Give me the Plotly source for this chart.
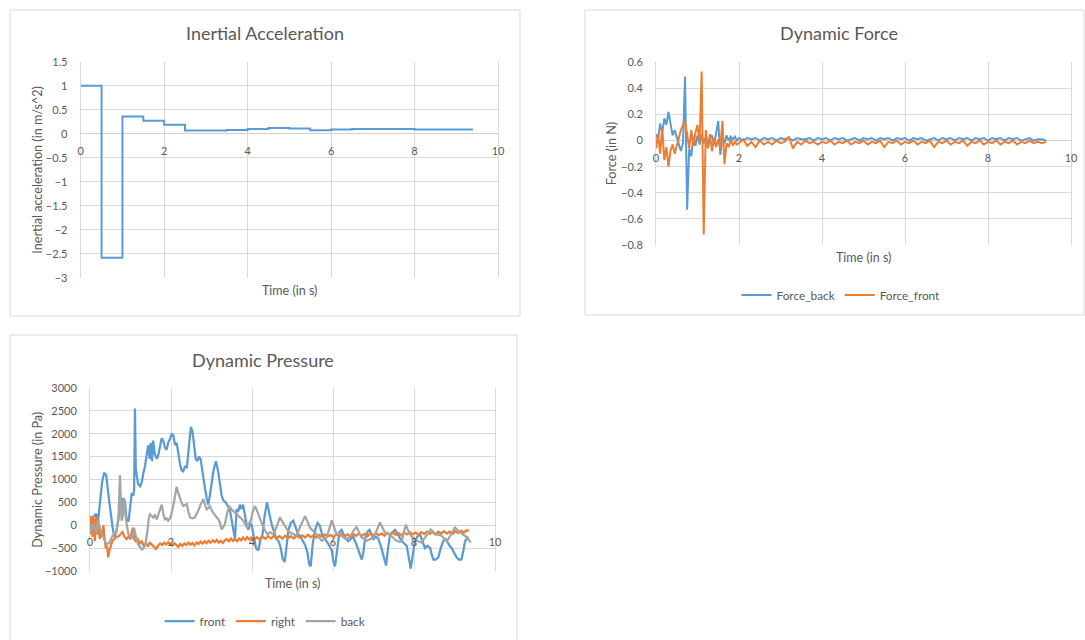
import plotly.graph_objects as go

# ---------------- data ----------------
ACCEL_T = [0, 0.5, 1.0, 1.5, 2.0, 2.5, 3.5, 4.0, 4.5, 5.0, 5.5, 6.0, 6.5, 8.0, 9.4]
ACCEL_V = [1.0, -2.58, 0.36, 0.27, 0.19, 0.07, 0.08, 0.10, 0.12, 0.11, 0.075, 0.09, 0.10, 0.09, 0.09]

FORCE_TIME = [
    0.00, 0.05, 0.10, 0.15, 0.20, 0.25, 0.30, 0.35, 0.40, 0.45,
    0.50, 0.55, 0.60, 0.65, 0.70, 0.75, 0.80, 0.85, 0.90, 0.95,
    1.00, 1.05, 1.10, 1.15, 1.20, 1.25, 1.30, 1.35, 1.40, 1.45,
    1.50, 1.55, 1.60, 1.65, 1.70, 1.75, 1.80, 1.85, 1.90, 1.95,
    2.0, 2.1, 2.2, 2.3, 2.4, 2.5, 2.6, 2.7, 2.8, 2.9,
    3.0, 3.1, 3.2, 3.3, 3.4, 3.5, 3.6, 3.7, 3.8, 3.9,
    4.0, 4.1, 4.2, 4.3, 4.4, 4.5, 4.6, 4.7, 4.8, 4.9,
    5.0, 5.1, 5.2, 5.3, 5.4, 5.5, 5.6, 5.7, 5.8, 5.9,
    6.0, 6.1, 6.2, 6.3, 6.4, 6.5, 6.6, 6.7, 6.8, 6.9,
    7.0, 7.1, 7.2, 7.3, 7.4, 7.5, 7.6, 7.7, 7.8, 7.9,
    8.0, 8.1, 8.2, 8.3, 8.4, 8.5, 8.6, 8.7, 8.8, 8.9,
    9.0, 9.1, 9.2, 9.3, 9.4,
]
FORCE_BACK = [
    0.05, 0.01, 0.13, 0.06, 0.17, 0.12, 0.22, 0.14, 0.04, 0.08,
    0.02, -0.04, -0.08, -0.02, 0.49, -0.53, -0.06, -0.12, 0.03, -0.04,
    0.04, -0.03, 0.05, -0.02, 0.03, -0.05, 0.02, 0.04, -0.03, 0.06,
    0.15, -0.11, 0.03, -0.02, 0.04, 0.00, 0.03, 0.01, 0.03, 0.00,
    0.02, 0.00, 0.02, 0.01, 0.02, 0.00, 0.02, 0.01, 0.02, 0.00,
    0.02, 0.01, 0.02, 0.00, 0.02, 0.01, 0.01, 0.02, 0.00, 0.02,
    0.01, 0.02, 0.00, 0.02, 0.01, 0.02, 0.00, 0.01, 0.02, 0.00,
    0.02, 0.01, 0.02, 0.00, 0.02, 0.01, 0.02, 0.00, 0.02, 0.01,
    0.02, 0.00, 0.02, 0.01, 0.02, 0.00, 0.01, 0.02, 0.00, 0.02,
    0.01, 0.02, 0.00, 0.02, 0.01, 0.02, 0.00, 0.02, 0.01, 0.02,
    0.00, 0.02, 0.01, 0.02, 0.00, 0.02, 0.01, 0.02, 0.00, 0.01,
    0.02, 0.00, 0.01, 0.01, 0.00,
]
FORCE_FRONT = [
    -0.06, 0.05, -0.10, 0.10, -0.15, -0.05, -0.20, -0.08, -0.03, -0.10,
    -0.04, 0.03, 0.08, 0.12, 0.15, 0.05, -0.06, 0.08, -0.04, 0.06,
    0.12, -0.02, 0.53, -0.72, 0.08, -0.06, 0.05, -0.08, 0.02, -0.05,
    0.01, -0.06, 0.15, -0.18, -0.02, -0.05, 0.01, -0.04, -0.01, -0.03,
    -0.02, 0.01, -0.04, -0.01, -0.05, 0.00, -0.03, -0.01, -0.03, 0.00,
    -0.02, -0.01, 0.03, -0.06, -0.01, -0.03, 0.00, -0.02, -0.01, -0.03,
    -0.01, -0.02, 0.00, -0.03, -0.01, -0.02, 0.00, -0.03, -0.01, -0.02,
    0.00, -0.03, -0.01, -0.02, 0.00, -0.05, -0.01, -0.02, 0.00, -0.03,
    -0.01, -0.02, 0.00, -0.03, -0.01, -0.02, 0.00, -0.05, -0.01, -0.02,
    0.00, -0.03, -0.01, -0.02, 0.00, -0.04, -0.01, -0.02, 0.00, -0.03,
    -0.01, -0.02, 0.00, -0.03, -0.01, -0.02, 0.00, -0.03, -0.01, -0.02,
    0.00, -0.02, -0.01, -0.02, -0.01,
]

PRESSURE_FRONT = [
    (0.00, -150), (0.05, 150), (0.10, 200), (0.15, 250), (0.20, 100), (0.25, 500), (0.30, 950),
    (0.35, 1150), (0.40, 1100), (0.45, 700), (0.50, 300), (0.55, 0), (0.60, -250), (0.65, -150),
    (0.70, 150), (0.75, 350), (0.78, 600), (0.82, 400), (0.86, 550), (0.90, 150), (0.95, 80),
    (1.00, 450), (1.03, 700), (1.07, 650), (1.09, 800), (1.11, 2550), (1.13, 1250), (1.16, 1050),
    (1.19, 900), (1.24, 850), (1.28, 950), (1.32, 1150), (1.36, 1300), (1.40, 1550), (1.44, 1750),
    (1.47, 1450), (1.50, 1800), (1.53, 1400), (1.56, 1850), (1.60, 1550), (1.65, 1450), (1.69, 1550),
    (1.73, 1750), (1.77, 1900), (1.81, 1850), (1.85, 1700), (1.89, 1650), (1.93, 1800), (1.98, 1900),
    (2.02, 2000), (2.06, 1950), (2.10, 1750), (2.14, 1800), (2.18, 1550), (2.22, 1350), (2.26, 1200),
    (2.30, 1180), (2.35, 1300), (2.39, 1250), (2.44, 1700), (2.49, 2150), (2.53, 2050), (2.57, 1700),
    (2.61, 1450), (2.65, 1400), (2.69, 1500), (2.73, 1450), (2.78, 1100), (2.84, 800), (2.88, 600),
    (2.92, 450), (2.96, 650), (3.00, 900), (3.05, 1200), (3.11, 1400), (3.16, 1200), (3.21, 900),
    (3.25, 650), (3.29, 550), (3.35, 500), (3.42, 400), (3.46, 300), (3.50, 100), (3.54, -100),
    (3.58, -300), (3.62, 350), (3.66, 300), (3.70, 450), (3.74, 350), (3.78, 450), (3.83, 200),
    (3.87, 0), (3.91, -100), (3.95, 50), (3.99, 0), (4.05, -300), (4.10, -500), (4.16, -550),
    (4.21, -300), (4.26, -200), (4.31, 200), (4.37, 500), (4.43, 250), (4.49, 0), (4.55, -150),
    (4.60, -300), (4.66, -350), (4.71, -500), (4.76, -750), (4.81, -800), (4.86, -400), (4.90, -100),
    (4.96, 50), (5.02, 100), (5.08, -50), (5.14, -200), (5.20, -250), (5.27, -350), (5.32, -450),
    (5.37, -600), (5.41, -850), (5.45, -900), (5.50, -400), (5.56, -100), (5.62, 50), (5.67, 0),
    (5.73, -200), (5.80, -300), (5.88, -400), (5.97, -550), (6.01, -800), (6.05, -900), (6.10, -500),
    (6.16, -150), (6.21, -100), (6.26, -200), (6.32, -300), (6.38, -350), (6.44, -300), (6.50, -250),
    (6.57, -400), (6.63, -550), (6.67, -650), (6.71, -750), (6.75, -600), (6.79, -300), (6.85, -150),
    (6.90, -100), (6.95, -200), (7.00, -300), (7.06, -250), (7.12, -300), (7.18, -450), (7.23, -600),
    (7.27, -750), (7.31, -880), (7.36, -500), (7.41, -200), (7.47, -150), (7.53, -100), (7.60, -200),
    (7.70, -350), (7.76, -400), (7.82, -450), (7.87, -700), (7.92, -950), (7.97, -650), (8.02, -350),
    (8.08, -250), (8.15, -200), (8.21, -350), (8.27, -500), (8.33, -450), (8.40, -500), (8.44, -650),
    (8.48, -750), (8.54, -750), (8.60, -700), (8.66, -500), (8.72, -350), (8.78, -300), (8.84, -400),
    (8.88, -450), (8.93, -500), (8.99, -600), (9.05, -700), (9.11, -750), (9.17, -750), (9.22, -550),
    (9.26, -350), (9.30, -300), (9.34, -250),
]

PRESSURE_RIGHT = [
    (0.00, 0), (0.03, 200), (0.06, -250), (0.09, 150), (0.12, -350), (0.15, 200), (0.18, -200),
    (0.21, 100), (0.24, -300), (0.27, -100), (0.30, -250), (0.33, 0), (0.36, -300), (0.39, -500),
    (0.42, -450), (0.45, -700), (0.48, -550), (0.51, -450), (0.55, -350), (0.60, -300), (0.65, -250),
    (0.70, -250), (0.75, -200), (0.80, -150), (0.85, -250), (0.90, -300), (0.95, -250), (1.00, -300),
    (1.03, -150), (1.06, -50), (1.09, -300), (1.13, -350), (1.18, -300), (1.23, -400), (1.28, -350),
    (1.33, -450), (1.38, -400), (1.43, -450), (1.48, -380), (1.53, -420), (1.58, -480), (1.63, -520),
    (1.68, -450), (1.73, -400), (1.78, -430), (1.83, -380), (1.88, -420), (1.93, -370), (1.98, -410),
    (2.03, -440), (2.08, -390), (2.13, -430), (2.18, -470), (2.23, -410), (2.28, -450), (2.33, -400),
    (2.38, -430), (2.43, -380), (2.48, -420), (2.53, -390), (2.58, -440), (2.63, -380), (2.68, -410),
    (2.73, -360), (2.78, -400), (2.83, -350), (2.88, -390), (2.93, -340), (2.98, -380), (3.03, -330),
    (3.08, -370), (3.13, -320), (3.18, -380), (3.23, -340), (3.28, -390), (3.33, -330), (3.38, -300),
    (3.43, -350), (3.48, -290), (3.53, -340), (3.58, -300), (3.63, -350), (3.68, -290), (3.73, -330),
    (3.78, -270), (3.83, -320), (3.88, -260), (3.93, -310), (3.98, -270), (4.05, -320), (4.12, -260),
    (4.19, -310), (4.26, -250), (4.33, -300), (4.40, -240), (4.47, -290), (4.54, -230), (4.61, -280),
    (4.68, -240), (4.75, -290), (4.82, -230), (4.89, -280), (4.96, -240), (5.03, -290), (5.10, -230),
    (5.17, -270), (5.24, -220), (5.31, -270), (5.38, -210), (5.45, -260), (5.52, -220), (5.59, -270),
    (5.66, -210), (5.73, -250), (5.80, -200), (5.87, -250), (5.94, -210), (6.01, -260), (6.08, -200),
    (6.15, -240), (6.22, -190), (6.29, -240), (6.36, -200), (6.43, -250), (6.50, -190), (6.57, -230),
    (6.64, -180), (6.71, -230), (6.78, -190), (6.85, -240), (6.92, -180), (6.99, -220), (7.06, -170),
    (7.13, -220), (7.20, -180), (7.27, -230), (7.34, -170), (7.41, -210), (7.48, -160), (7.55, -210),
    (7.62, -170), (7.69, -220), (7.76, -160), (7.83, -200), (7.90, -150), (7.97, -200), (8.04, -160),
    (8.11, -210), (8.18, -150), (8.25, -190), (8.32, -140), (8.39, -190), (8.46, -150), (8.53, -200),
    (8.60, -140), (8.67, -180), (8.74, -130), (8.81, -180), (8.88, -140), (8.95, -190), (9.02, -130),
    (9.09, -170), (9.16, -120), (9.23, -160), (9.30, -110), (9.36, -120),
]

PRESSURE_BACK = [
    (0.00, -200), (0.04, -50), (0.08, 20), (0.12, -100), (0.15, -160), (0.20, 100), (0.26, -120),
    (0.33, -270), (0.41, -420), (0.48, -380), (0.56, -230), (0.64, -160), (0.70, 100), (0.74, 1100),
    (0.78, 100), (0.81, 200), (0.84, 600), (0.89, 100), (0.95, -200), (1.03, -270), (1.09, -70),
    (1.14, -270), (1.19, -420), (1.24, -480), (1.28, -530), (1.32, -500), (1.36, -450), (1.42, -120),
    (1.45, 150), (1.48, 240), (1.52, 200), (1.56, 170), (1.60, 220), (1.65, 130), (1.71, 300),
    (1.77, 450), (1.81, 250), (1.85, 130), (1.89, 150), (1.93, 100), (1.97, 150), (2.00, 200),
    (2.06, 450), (2.10, 650), (2.14, 840), (2.18, 700), (2.22, 570), (2.26, 500), (2.30, 420),
    (2.35, 450), (2.39, 460), (2.43, 300), (2.47, 170), (2.53, 150), (2.59, 170), (2.63, 250),
    (2.67, 310), (2.73, 450), (2.80, 570), (2.84, 450), (2.88, 350), (2.92, 380), (2.96, 420),
    (3.02, 300), (3.09, 200), (3.13, 170), (3.17, 130), (3.21, 50), (3.25, -90), (3.29, -20),
    (3.33, 20), (3.38, 250), (3.44, 420), (3.49, 350), (3.54, 310), (3.60, 250), (3.66, 200),
    (3.72, 150), (3.79, 100), (3.84, 0), (3.88, -50), (3.92, 30), (3.97, 100), (4.02, 300),
    (4.07, 420), (4.12, 330), (4.18, 200), (4.23, 50), (4.28, -50), (4.33, -120), (4.38, -200),
    (4.45, -150), (4.53, -200), (4.60, -50), (4.65, 100), (4.69, 170), (4.75, 80), (4.81, -20),
    (4.87, -100), (4.94, -160), (5.02, -200), (5.10, -230), (5.18, -50), (5.25, 100), (5.31, 200),
    (5.37, 80), (5.43, -50), (5.50, -120), (5.56, -160), (5.64, -250), (5.72, -340), (5.78, -300),
    (5.84, -270), (5.90, -100), (5.97, 110), (6.03, -50), (6.09, -200), (6.15, -180), (6.21, -230),
    (6.28, -280), (6.34, -310), (6.40, -250), (6.46, -200), (6.52, -100), (6.58, -40), (6.64, -150),
    (6.71, -270), (6.77, -300), (6.83, -340), (6.92, -300), (7.00, -270), (7.06, -150), (7.11, -20),
    (7.16, 60), (7.22, -50), (7.28, -160), (7.34, -180), (7.41, -200), (7.49, -280), (7.57, -340),
    (7.64, -360), (7.70, -340), (7.75, -150), (7.80, 10), (7.85, -100), (7.90, -200), (7.96, -260),
    (8.02, -310), (8.10, -350), (8.19, -380), (8.25, -300), (8.31, -230), (8.36, -150), (8.41, -90),
    (8.48, -150), (8.56, -200), (8.62, -210), (8.68, -230), (8.74, -290), (8.81, -340), (8.86, -280),
    (8.91, -200), (8.96, -120), (9.01, -50), (9.07, -100), (9.14, -160), (9.20, -200), (9.26, -230),
    (9.34, -300), (9.40, -380),
]

TITLES = ["Inertial Acceleration", "Dynamic Force", "Dynamic Pressure"]
Y_TITLES = ["Inertial acceleration (in m/s^2)", "Force (in N)", "Dynamic Pressure (in Pa)"]
X_TITLE = "Time (in s)"

# ---------------- style ----------------
W, H = 1085, 640
FONT = "Lato"
TXT = "#595959"
GRID = "#d9d9d9"
BLUE, ORANGE, GRAY = "#5B9BD5", "#ED7D31", "#A5A5A5"


def fx(px):
    return px / W


def fy(py):
    return 1 - py / H


fig = go.Figure()

fig.add_trace(go.Scatter(x=ACCEL_T, y=ACCEL_V, mode="lines", line=dict(color=BLUE, width=2, shape="hv"),
                         xaxis="x", yaxis="y", showlegend=False, name="acc"))

fig.add_trace(go.Scatter(x=FORCE_TIME, y=FORCE_BACK, mode="lines", line=dict(color=BLUE, width=2),
                         xaxis="x2", yaxis="y2", name="Force_back", legend="legend"))
fig.add_trace(go.Scatter(x=FORCE_TIME, y=FORCE_FRONT, mode="lines", line=dict(color=ORANGE, width=2),
                         xaxis="x2", yaxis="y2", name="Force_front", legend="legend"))

for name, data, col in [("front", PRESSURE_FRONT, BLUE), ("right", PRESSURE_RIGHT, ORANGE),
                        ("back", PRESSURE_BACK, GRAY)]:
    fig.add_trace(go.Scatter(x=[d[0] for d in data], y=[d[1] for d in data], mode="lines",
                             line=dict(color=col, width=2.25), xaxis="x3", yaxis="y3",
                             name=name, legend="legend2"))

tickfont = dict(family=FONT, size=11, color=TXT)

# plot areas in pixels: (left, right, top, bottom), y ranges, dticks
panels = [
    ((80.7, 498, 61.7, 278), [-3, 1.5], 0.5),
    ((656, 1071, 62.3, 245), [-0.8, 0.6], 0.2),
    ((90, 495, 388, 571), [-1000, 3000], 500),
]

layout = dict(width=W, height=H, margin=dict(l=0, r=0, t=0, b=0, pad=0, autoexpand=False),
              autosize=False, paper_bgcolor="white", plot_bgcolor="white",
              font=dict(family=FONT, color=TXT))
for i, ((l, r, t, b), yr, dt) in enumerate(panels):
    sfx = "" if i == 0 else str(i + 1)
    ydom = [fy(b), fy(t)]
    zero_pos = ydom[0] + (0 - yr[0]) / (yr[1] - yr[0]) * (ydom[1] - ydom[0])
    layout["xaxis" + sfx] = dict(domain=[fx(l), fx(r)], range=[0, 10], dtick=2, tick0=0,
                                 anchor="free", position=zero_pos, showgrid=True, gridcolor=GRID,
                                 gridwidth=1, zeroline=False, showline=False, ticks="outside",
                                 ticklen=7, tickcolor="rgba(0,0,0,0)", tickfont=tickfont,
                                 automargin=False)
    layout["yaxis" + sfx] = dict(domain=ydom, range=yr, dtick=dt, anchor="x" + sfx, showgrid=True,
                                 gridcolor=GRID, gridwidth=1, zeroline=True, zerolinecolor="#d0d0d0",
                                 zerolinewidth=1, showline=True, linecolor=GRID, linewidth=1,
                                 mirror=True, ticks="outside", ticklen=10,
                                 tickcolor="rgba(0,0,0,0)", tickfont=tickfont, automargin=False)

layout["legend"] = dict(orientation="h", x=fx(841), y=fy(295), xanchor="center", yanchor="middle",
                        font=dict(family=FONT, size=11.8, color=TXT), bgcolor="rgba(0,0,0,0)")
layout["legend2"] = dict(orientation="h", x=fx(265), y=fy(621), xanchor="center", yanchor="middle",
                         font=dict(family=FONT, size=11.8, color=TXT), bgcolor="rgba(0,0,0,0)")

# chart borders
boxes = [(10, 520, 10, 316), (585, 1084, 10, 315), (10, 517, 335, 645)]
layout["shapes"] = [dict(type="rect", xref="paper", yref="paper", x0=fx(a), x1=fx(b), y0=fy(d), y1=fy(c),
                         line=dict(color=GRID, width=1), fillcolor="rgba(0,0,0,0)", layer="below")
                    for a, b, c, d in boxes]

ann = []
title_pos = [(265, 33), (839, 33), (263, 360)]
for txt, (px, py) in zip(TITLES, title_pos):
    ann.append(dict(text=txt, x=fx(px), y=fy(py), xref="paper", yref="paper", showarrow=False,
                    xanchor="center", yanchor="middle", font=dict(family=FONT, size=18, color=TXT)))
ytitle_pos = [(36.7, 170), (611.7, 153.6), (36.7, 480)]
for txt, (px, py) in zip(Y_TITLES, ytitle_pos):
    ann.append(dict(text=txt, x=fx(px), y=fy(py), xref="paper", yref="paper", showarrow=False,
                    xanchor="center", yanchor="middle", textangle=-90,
                    font=dict(family=FONT, size=12.6, color=TXT)))
xtitle_pos = [(289, 290), (863, 257), (292.7, 583)]
for px, py in xtitle_pos:
    ann.append(dict(text=X_TITLE, x=fx(px), y=fy(py), xref="paper", yref="paper", showarrow=False,
                    xanchor="center", yanchor="middle", font=dict(family=FONT, size=12.5, color=TXT)))
layout["annotations"] = ann

fig.update_layout(**layout)
fig.write_html("out.html", config={"displayModeBar": False},
               post_script="document.body.style.margin='0';document.body.style.overflow='hidden';")
